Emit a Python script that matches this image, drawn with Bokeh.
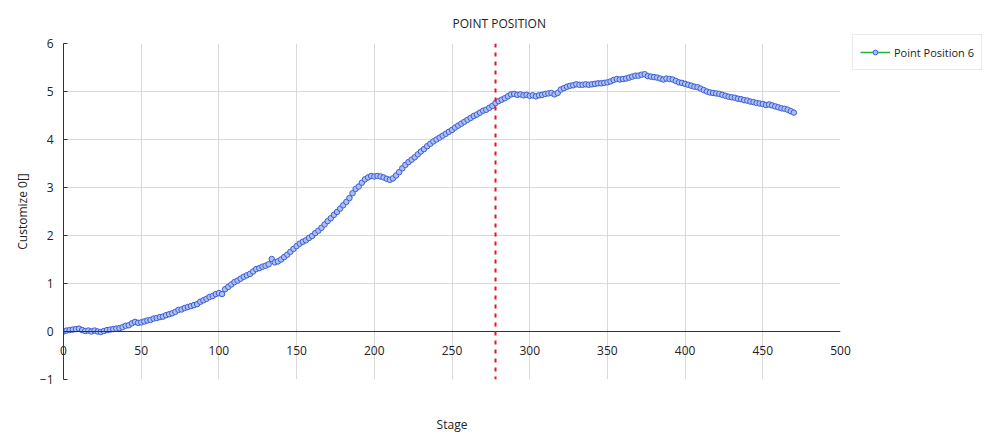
from bokeh.plotting import figure
from bokeh.models import Span, Legend, LegendItem, Title, FixedTicker, ColumnDataSource
from bokeh.embed import file_html
from bokeh.resources import INLINE

# ---- data ----
stage = list(range(0, 471, 2))
position = [
    0.00, 0.02, 0.03, 0.04, 0.05, 0.06, 0.03, 0.01, 0.02, 0.00,
    0.02, 0.00, -0.01, 0.01, 0.03, 0.04, 0.05, 0.06, 0.07, 0.09,
    0.12, 0.13, 0.17, 0.20, 0.18, 0.19, 0.21, 0.23, 0.24, 0.27,
    0.28, 0.30, 0.31, 0.34, 0.36, 0.38, 0.41, 0.45, 0.46, 0.49,
    0.51, 0.53, 0.55, 0.57, 0.62, 0.65, 0.68, 0.72, 0.74, 0.78,
    0.80, 0.78, 0.88, 0.93, 0.98, 1.03, 1.06, 1.10, 1.14, 1.17,
    1.20, 1.25, 1.30, 1.32, 1.35, 1.37, 1.40, 1.51, 1.44, 1.46,
    1.50, 1.55, 1.60, 1.66, 1.72, 1.78, 1.83, 1.87, 1.90, 1.95,
    1.99, 2.05, 2.10, 2.16, 2.23, 2.30, 2.36, 2.43, 2.49, 2.56,
    2.63, 2.70, 2.78, 2.88, 2.97, 3.02, 3.10, 3.17, 3.21, 3.24,
    3.23, 3.24, 3.23, 3.21, 3.18, 3.16, 3.19, 3.25, 3.32, 3.40,
    3.47, 3.53, 3.58, 3.63, 3.69, 3.75, 3.80, 3.86, 3.91, 3.96,
    4.00, 4.04, 4.08, 4.12, 4.16, 4.20, 4.25, 4.29, 4.33, 4.37,
    4.41, 4.45, 4.49, 4.52, 4.56, 4.60, 4.62, 4.66, 4.70, 4.76,
    4.80, 4.83, 4.86, 4.90, 4.94, 4.95, 4.93, 4.94, 4.92, 4.93,
    4.91, 4.92, 4.90, 4.92, 4.93, 4.95, 4.96, 4.97, 4.94, 4.97,
    5.04, 5.07, 5.10, 5.12, 5.13, 5.15, 5.14, 5.14, 5.15, 5.14,
    5.15, 5.16, 5.17, 5.17, 5.18, 5.19, 5.21, 5.24, 5.26, 5.25,
    5.26, 5.27, 5.29, 5.31, 5.33, 5.33, 5.35, 5.36, 5.32, 5.31,
    5.30, 5.29, 5.27, 5.25, 5.27, 5.26, 5.25, 5.22, 5.19, 5.18,
    5.16, 5.14, 5.12, 5.10, 5.09, 5.06, 5.03, 5.00, 4.98, 4.97,
    4.96, 4.95, 4.93, 4.91, 4.89, 4.88, 4.87, 4.85, 4.84, 4.82,
    4.81, 4.79, 4.78, 4.76, 4.75, 4.74, 4.72, 4.73, 4.71, 4.69,
    4.67, 4.65, 4.64, 4.62, 4.59, 4.56,
]
marker_stage = 278
x_ticks = [0, 50, 100, 150, 200, 250, 300, 350, 400, 450, 500]
y_ticks = [-1, 0, 1, 2, 3, 4, 5, 6]
series_name = "Point Position 6"

FONT = "Open Sans"

p = figure(
    width=982, height=444,
    frame_width=777, frame_height=336,
    x_range=(0, 500), y_range=(-1, 6),
    output_backend="svg", toolbar_location=None,
    min_border_left=63, min_border_right=142,
    min_border_top=43, min_border_bottom=65,
    background_fill_color="white", border_fill_color="white",
)
p.outline_line_color = None

p.title.text = "POINT POSITION"
p.title.align = "left"
p.title.offset = 389
p.title.text_font = FONT
p.title.text_font_size = "12px"
p.title.text_font_style = "normal"
p.title.text_color = "#222222"
p.title.standoff = 24

# axes
p.xaxis.ticker = FixedTicker(ticks=x_ticks)
p.yaxis.ticker = FixedTicker(ticks=y_ticks)
xa = p.xaxis[0]
ya = p.yaxis[0]
for ax in (xa, ya):
    ax.major_label_text_font = FONT
    ax.major_label_text_font_size = "12px"
    ax.major_label_text_color = "#222222"
    ax.minor_tick_line_color = None
xa.axis_line_color = None
xa.major_tick_line_color = None
xa.major_label_standoff = -40

ya.axis_line_color = "#333333"
ya.major_tick_in = 4
ya.major_tick_out = 0
ya.major_tick_line_color = "#333333"
ya.major_label_standoff = 10
ya.axis_label = "Customize 0[]"
ya.axis_label_text_font = FONT
ya.axis_label_text_font_size = "12px"
ya.axis_label_text_font_style = "normal"
ya.axis_label_text_color = "#222222"
ya.axis_label_standoff = 6

p.add_layout(Title(text="Stage", align="center", text_font=FONT,
                   text_font_size="12px", text_font_style="normal",
                   text_color="#222222", standoff=68), "below")

# grid
p.xgrid.ticker = FixedTicker(ticks=x_ticks)
p.ygrid.ticker = FixedTicker(ticks=[1, 2, 3, 4, 5, 6])
p.xgrid.grid_line_color = "#d9d9d9"
p.ygrid.grid_line_color = "#d9d9d9"

# x axis baseline at y = 0
p.add_layout(Span(location=0, dimension="width", line_color="#333333", line_width=1))

src = ColumnDataSource(dict(x=stage, y=position))
ln = p.line("x", "y", source=src, line_color="#1db33f", line_width=1.5)
sc = p.scatter("x", "y", source=src, size=5.5, marker="circle",
               line_color="#3a5ed6", fill_color="#aebff2", line_width=1)

p.add_layout(Span(location=marker_stage, dimension="height",
                  line_color="#e8102a", line_width=2, line_dash="4 5"))

legend = Legend(items=[LegendItem(label=series_name, renderers=[ln, sc])],
                location=(12, 309))
legend.label_text_font = FONT
legend.label_text_font_size = "11px"
legend.label_text_color = "#222222"
legend.glyph_width = 30
legend.glyph_height = 12
legend.label_height = 20
legend.label_standoff = 4
legend.padding = 7
legend.margin = 0
legend.spacing = 0
legend.border_line_color = "#d4d4d4"
legend.background_fill_color = "white"
legend.background_fill_alpha = 1
p.add_layout(legend, "right")

open("out.html", "w").write(file_html(p, INLINE))
